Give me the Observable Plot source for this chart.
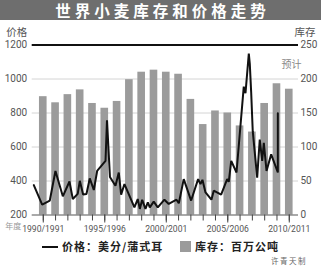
<!DOCTYPE html>
<html><head><meta charset="utf-8">
<script src="https://cdn.jsdelivr.net/npm/d3@7"></script>
<script src="https://cdn.jsdelivr.net/npm/@observablehq/plot@0.6"></script>
<style>
html,body{margin:0;padding:0;background:#fff;}
body{width:321px;height:270px;overflow:hidden;font-family:"Noto Sans CJK SC",sans-serif;position:relative;}
#title{height:20px;background:#6e6e6e;color:#fff;font-weight:bold;font-size:15.5px;letter-spacing:4px;text-align:center;line-height:20px;padding-left:4px;box-sizing:border-box;}
#chart{height:218px;}
#legend{position:relative;height:17px;font-size:11px;font-weight:bold;color:#222;letter-spacing:1px;}
#legend .sw-line{position:absolute;left:42px;top:8px;width:16px;height:2px;background:#111;}
#legend .t1{position:absolute;left:62px;top:0;line-height:17px;}
#legend .sw-box{position:absolute;left:180px;top:3px;width:11px;height:11px;background:#9b9b9b;}
#legend .t2{position:absolute;left:195px;top:0;line-height:17px;}
#credit{position:absolute;right:14px;top:256px;font-size:7.5px;color:#666;letter-spacing:1.5px;line-height:10px;}
</style></head>
<body>
<div id="title">世界小麦库存和价格走势</div>
<div id="chart"></div>
<div id="legend"><span class="sw-line"></span><span class="t1" id="lt1"></span><span class="sw-box"></span><span class="t2" id="lt2"></span></div>
<div id="credit">许青天制</div>
<script>
// categories (marketing years, labelled by first year)
const years = [1990,1991,1992,1993,1994,1995,1996,1997,1998,1999,2000,2001,2002,2003,2004,2005,2006,2007,2008,2009,2010];
// wheat stocks, million tonnes
const stocks = [174,165,177,184,164,157,167,199,210,213,210,207,170,133,153,150,131,122,164,193,185];
// price line: time (fractional year) and price (US cents / bushel)
const priceT = [1989.23,1989.91,1990.53,1990.99,1991.59,1992.13,1992.40,1992.80,1992.97,1993.24,1993.51,1993.78,1994.11,1994.38,1995.06,1995.18,1995.42,1995.87,1996.14,1996.33,1996.60,1997.41,1997.68,1997.85,1998.04,1998.31,1998.50,1998.66,1998.98,1999.31,1999.85,2000.20,2000.83,2001.02,2001.42,2002.02,2002.59,2002.78,2002.94,2003.19,2003.67,2003.86,2004.46,2004.95,2005.08,2005.28,2005.71,2006.30,2006.44,2006.71,2006.79,2006.90,2007.03,2007.39,2007.60,2007.80,2007.93,2008.15,2008.53,2009.07,2009.07];
const priceV = [376,261,285,459,310,397,294,324,401,320,324,415,347,459,518,757,424,372,450,320,382,245,294,236,289,236,275,245,279,245,290,265,290,269,411,285,411,382,407,333,290,343,320,411,395,518,450,955,916,1149,1089,926,693,420,644,518,624,459,557,450,799];
// axis ticks
const priceTicks = [200,400,600,800,1000,1200];
const gridTicks = [400,600,800,1000];
const labelYears = [1990,1995,2000,2005,2010];
const legendPrice = "价格：美分/蒲式耳";
const legendStock = "库存：百万公吨";

const toPrice = s => 200 + 4 * s;      // right axis 0..250 maps onto left 200..1200
const toStock = p => (p - 200) / 4;

const bars = years.map((y, i) => ({year: y, stock: stocks[i]}));
const price = priceT.map((t, i) => ({t, v: priceV[i]}));

document.getElementById("lt1").textContent = legendPrice;
document.getElementById("lt2").textContent = legendStock;

const chart = Plot.plot({
  width: 321, height: 218,
  marginLeft: 31.7, marginRight: 23, marginTop: 24.5, marginBottom: 23.5,
  x: {domain: [1989.1, 2010.75], axis: null},
  y: {domain: [200, 1200], axis: null},
  style: {fontFamily: "Roboto, sans-serif", background: "white", overflow: "visible"},
  marks: [
    Plot.ruleY(gridTicks, {stroke: "#d4d4d4", strokeWidth: 1}),
    Plot.rectY(bars, {x1: d => d.year - 0.31, x2: d => d.year + 0.31, y1: 200, y2: d => toPrice(d.stock), fill: "#9b9b9b"}),
    Plot.ruleY([200], {stroke: "#555", strokeWidth: 1}),
    Plot.ruleY([1200], {stroke: "#111", strokeWidth: 2}),
    Plot.axisX(years, {tickSize: 6, tickFormat: () => "", stroke: "#444", label: null}),
    Plot.axisX(labelYears, {tickSize: 8, tickPadding: 3, tickFormat: d => `${d}/${d + 1}`, stroke: "#444", fill: "#555", fontSize: 8.6, label: null}),
    Plot.axisY(priceTicks, {anchor: "left", tickSize: 0, tickPadding: 5, tickFormat: d => String(d), fill: "#555", fontSize: 10, label: null}),
    Plot.axisY(priceTicks, {anchor: "right", tickSize: 0, tickPadding: 2, tickFormat: d => String(toStock(d)), fill: "#555", fontSize: 10, label: null}),
    Plot.line(price, {x: "t", y: "v", stroke: "#111", strokeWidth: 2, strokeLinejoin: "miter"}),
    Plot.text(["价格"], {frameAnchor: "top-left", dx: -26, dy: -16, textAnchor: "start", fill: "#555", fontSize: 10.5, fontFamily: "Noto Sans CJK SC"}),
    Plot.text(["库存"], {frameAnchor: "top-right", dx: 17, dy: -16, textAnchor: "end", fill: "#555", fontSize: 10.5, fontFamily: "Noto Sans CJK SC"}),
    Plot.text(["预计"], {frameAnchor: "top-right", dx: -7, dy: 16, textAnchor: "middle", fill: "#888", fontSize: 10, fontFamily: "Noto Sans CJK SC"}),
    Plot.text(["年度"], {frameAnchor: "bottom-left", dx: -27, dy: 14, textAnchor: "start", fill: "#999", fontSize: 8, fontFamily: "Noto Sans CJK SC"})
  ]
});
document.getElementById("chart").appendChild(chart);
</script>
</body></html>
